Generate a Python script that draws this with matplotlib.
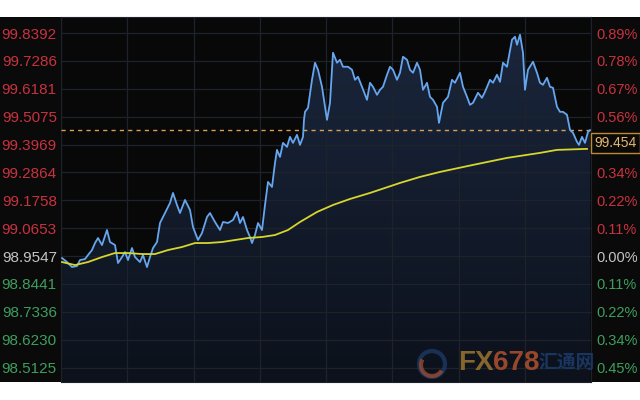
import matplotlib.pyplot as plt
import numpy as np
from matplotlib.patches import Rectangle, Circle, Arc

# minutes since the open (x axis spans 0..530) and last price
t = [1, 6, 11, 16, 19, 24, 27, 31, 34, 37, 41, 46, 49, 54, 57, 61, 64, 67, 71, 74,
     79, 82, 86, 89, 92, 96, 99, 104, 109, 112, 116, 119, 124, 129, 132, 137, 141, 146, 149, 154,
     159, 162, 167, 172, 176, 179, 182, 186, 189, 191, 194, 197, 201, 204, 207, 211, 214, 216, 219, 222,
     226, 229, 232, 236, 239, 242, 243, 244, 247, 251, 254, 257, 261, 264, 266, 269, 272, 276, 279, 282,
     287, 291, 294, 297, 301, 306, 309, 312, 316, 319, 322, 326, 329, 332, 336, 339, 342, 346, 349, 352,
     356, 359, 362, 366, 369, 372, 376, 378, 382, 387, 391, 394, 399, 402, 406, 409, 412, 417, 421, 424,
     429, 432, 436, 439, 442, 446, 451, 454, 456, 459, 462, 464, 467, 472, 476, 479, 482, 486, 489, 492,
     496, 499, 502, 506, 509, 512, 516, 518, 521, 524, 527, 529]
price = [98.9468, 98.9309, 98.9110, 98.9150, 98.9388, 98.9428, 98.9587, 98.9785, 99.0063, 99.0262,
         98.9984, 99.0580, 99.0103, 98.9984, 98.9269, 98.9507, 98.9706, 98.9388, 98.9865, 98.9507,
         98.9309, 98.9587, 98.9110, 98.9507, 98.9865, 99.0103, 99.0858, 99.1255, 99.1653, 99.2050,
         99.1573, 99.1255, 99.1772, 99.1375, 99.0699, 99.0183, 99.0461, 99.1096, 99.1255, 99.0898,
         99.0580, 99.0898, 99.0858, 99.0977, 99.1295, 99.0858, 99.1096, 99.0580, 99.0302, 99.0063,
         99.0381, 99.0858, 99.0580, 99.1573, 99.2487, 99.2288, 99.3242, 99.3758, 99.3480, 99.4036,
         99.3878, 99.4275, 99.4036, 99.4354, 99.3957, 99.4275, 99.4950, 99.5268, 99.5427, 99.6539,
         99.7215, 99.6937, 99.6261, 99.5467, 99.4950, 99.5626, 99.7612, 99.7215, 99.7334, 99.7056,
         99.7056, 99.6937, 99.6539, 99.6659, 99.6261, 99.5745, 99.6420, 99.6261, 99.5944, 99.6142,
         99.6261, 99.6738, 99.7056, 99.6937, 99.6539, 99.6818, 99.7453, 99.7334, 99.6937, 99.6818,
         99.7215, 99.6937, 99.6142, 99.6420, 99.5864, 99.5745, 99.5467, 99.4831, 99.5626, 99.5864,
         99.6539, 99.6420, 99.6818, 99.6261, 99.5864, 99.5546, 99.5626, 99.6023, 99.5824, 99.6063,
         99.6539, 99.6420, 99.6738, 99.6460, 99.7215, 99.7056, 99.8129, 99.8248, 99.7930, 99.8327,
         99.7612, 99.6142, 99.6937, 99.7255, 99.6818, 99.6420, 99.6341, 99.6619, 99.6261, 99.6222,
         99.5467, 99.5268, 99.5268, 99.5149, 99.4553, 99.4434, 99.4076, 99.3957, 99.4275, 99.4036,
         99.4474, 99.4540]

# average price (yellow)
t_avg = [1, 14, 27, 41, 54, 67, 81, 94, 107, 121, 134, 147, 161, 174, 187, 201, 214, 227,
         239, 256, 272, 289, 309, 339, 359, 379, 412, 446, 479, 496, 526]
avg = [98.9309, 98.9189, 98.9309, 98.9507, 98.9666, 98.9666, 98.9626, 98.9626, 98.9785, 98.9905,
       99.0063, 99.0063, 99.0103, 99.0183, 99.0262, 99.0302, 99.0381, 99.0580, 99.0898, 99.1295,
       99.1573, 99.1811, 99.2050, 99.2447, 99.2686, 99.2884, 99.3162, 99.3440, 99.3639, 99.3758,
       99.3798]

base = 98.9547
last = 99.454
left_labels = ['98.5125', '98.6230', '98.7336', '98.8441', '98.9547', '99.0653', '99.1758',
               '99.2864', '99.3969', '99.5075', '99.6181', '99.7286', '99.8392']
# the 99.3969 slot on the right is covered by the last-price box
right_labels = ['0.45%', '0.34%', '0.22%', '0.11%', '0.00%', '0.11%', '0.22%', '0.34%',
                '', '0.56%', '0.67%', '0.78%', '0.89%']

RED = '#c8323f'
GREEN = '#3e9e5e'
GREY = '#c4c4c4'

fig = plt.figure(figsize=(6.4, 4), dpi=100, facecolor='white')
# black band behind the chart
fig.add_artist(Rectangle((0, 0.045), 1, 0.9125, transform=fig.transFigure,
                         facecolor='#0a0a0a', edgecolor='none', zorder=0))

ax = fig.add_axes([61 / 640, 0.045, 530 / 640, 0.9125])
ax.set_facecolor('#080808')
ymin, ymax = 98.455, 99.903
ax.set_xlim(0, 530)
ax.set_ylim(ymin, ymax)

# gradient fill under the price line
poly = ax.fill_between(t, price, ymin, facecolor='none', edgecolor='none')
grad = np.linspace(1, 0, 256).reshape(-1, 1)
top_c = np.array([0x1b, 0x27, 0x3e]) / 255
bot_c = np.array([0x0c, 0x11, 0x1b]) / 255
img = bot_c + (top_c - bot_c) * grad[..., None]
im = ax.imshow(img, extent=[0, 530, ymin, ymax], aspect='auto', zorder=1)
im.set_clip_path(poly.get_paths()[0], transform=ax.transData)

# grid
yticks = [float(s) for s in left_labels]
for y in yticks:
    ax.axhline(y, color='#1d222b', lw=0.9, zorder=2)
for x in np.linspace(0, 530, 9):
    ax.axvline(x, color='#1d222b', lw=0.9, zorder=2)

ax.plot(t, price, color='#66a6ee', lw=1.3, zorder=4)
ax.plot(t_avg, avg, color='#d6d62c', lw=1.3, zorder=4)
ax.axhline(last, color='#d9a055', lw=1.0, ls=(0, (3, 3)), zorder=3)

for s in ax.spines.values():
    s.set_color('#1d222b')

ax.set_xticks([])
ax.set_yticks(yticks)
ax.set_yticklabels(left_labels, fontsize=11, family='Liberation Sans')
ax.tick_params(axis='y', length=0, pad=3)
for lab, v in zip(ax.get_yticklabels(), yticks):
    lab.set_color(RED if v > base + 1e-6 else (GREY if abs(v - base) < 1e-6 else GREEN))

ax2 = ax.twinx()
ax2.set_ylim(ymin, ymax)
ax2.set_yticks(yticks)
ax2.set_yticklabels(right_labels, fontsize=10.5, family='Liberation Sans')
ax2.tick_params(axis='y', length=0, pad=4)
for s in ax2.spines.values():
    s.set_visible(False)
for lab, v in zip(ax2.get_yticklabels(), yticks):
    lab.set_color(RED if v > base + 1e-6 else (GREY if abs(v - base) < 1e-6 else GREEN))

# last price box
fig.text(594 / 640, 1 - 143 / 400, f'{last:.3f}', fontsize=10, family='Liberation Sans',
         color='#e6b86a', va='center', ha='left',
         bbox=dict(boxstyle='square,pad=0.25', facecolor='#0a0a0a', edgecolor='#c08a30', lw=1))

# watermark
fig.add_artist(Circle((4.32, 0.36), 0.13, transform=fig.dpi_scale_trans,
                      facecolor='none', edgecolor='#1f3f70', lw=3, alpha=0.7, zorder=1))
fig.add_artist(Arc((4.32, 0.35), 0.22, 0.22, theta1=150, theta2=330, transform=fig.dpi_scale_trans,
                   color='#a8502c', lw=3, alpha=0.7, zorder=1))
fx = fig.text(458 / 640, 1 - 363 / 400, 'FX', fontsize=20, fontweight='bold', color='#86662c',
              family='Liberation Sans', va='center', ha='left', zorder=1)
fig.canvas.draw()
bb = fx.get_window_extent()
fig.text(bb.x1 / 640, 1 - 363 / 400, '678', fontsize=20, fontweight='bold', color='#98482a',
         family='Liberation Sans', va='center', ha='left', zorder=1)
fig.text(538 / 640, 1 - 362 / 400, '汇通网', fontsize=13.5, fontweight='bold', color='#1a3660',
         family=['Noto Sans CJK SC', 'DejaVu Sans'], va='center', ha='left', zorder=1)

fig.savefig('out.png', dpi=100, facecolor='white')
